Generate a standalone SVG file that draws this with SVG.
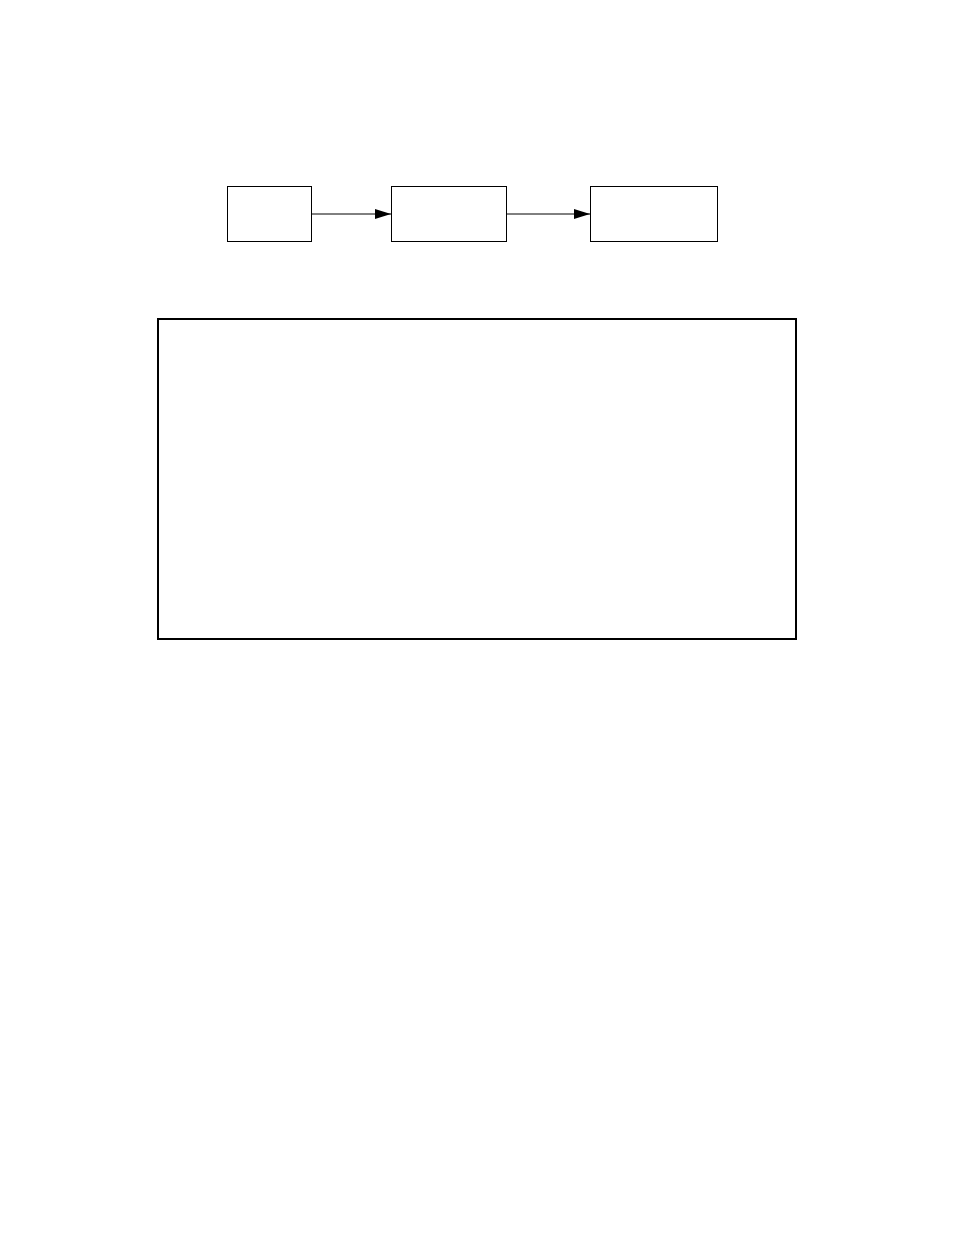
<svg xmlns="http://www.w3.org/2000/svg" width="954" height="1235" viewBox="0 0 954 1235">
<style>
.node{fill:#fff;stroke:#000;stroke-width:1}
.edge{fill:none;stroke:#000;stroke-width:1}
.frame{fill:none;stroke:#000;stroke-width:2}
</style>
<defs>
<marker id="arrow" viewBox="0 0 16 10" refX="16" refY="5" markerWidth="16" markerHeight="10" markerUnits="userSpaceOnUse" orient="auto">
<path d="M0,0 L16,5 L0,10 Z" fill="#000"/>
</marker>
</defs>
<rect width="954" height="1235" fill="#fff"/>
<g id="node1"><rect class="node" x="227.5" y="186.5" width="84" height="55"/></g>
<g id="node2"><rect class="node" x="391.5" y="186.5" width="115" height="55"/></g>
<g id="node3"><rect class="node" x="590.5" y="186.5" width="127" height="55"/></g>
<g id="frame"><rect class="frame" x="158" y="319" width="638" height="320"/></g>
<g id="connectors">
<line class="edge" x1="311.5" y1="214" x2="391" y2="214" marker-end="url(#arrow)"/>
<line class="edge" x1="506.5" y1="214" x2="590" y2="214" marker-end="url(#arrow)"/>
</g>
</svg>
